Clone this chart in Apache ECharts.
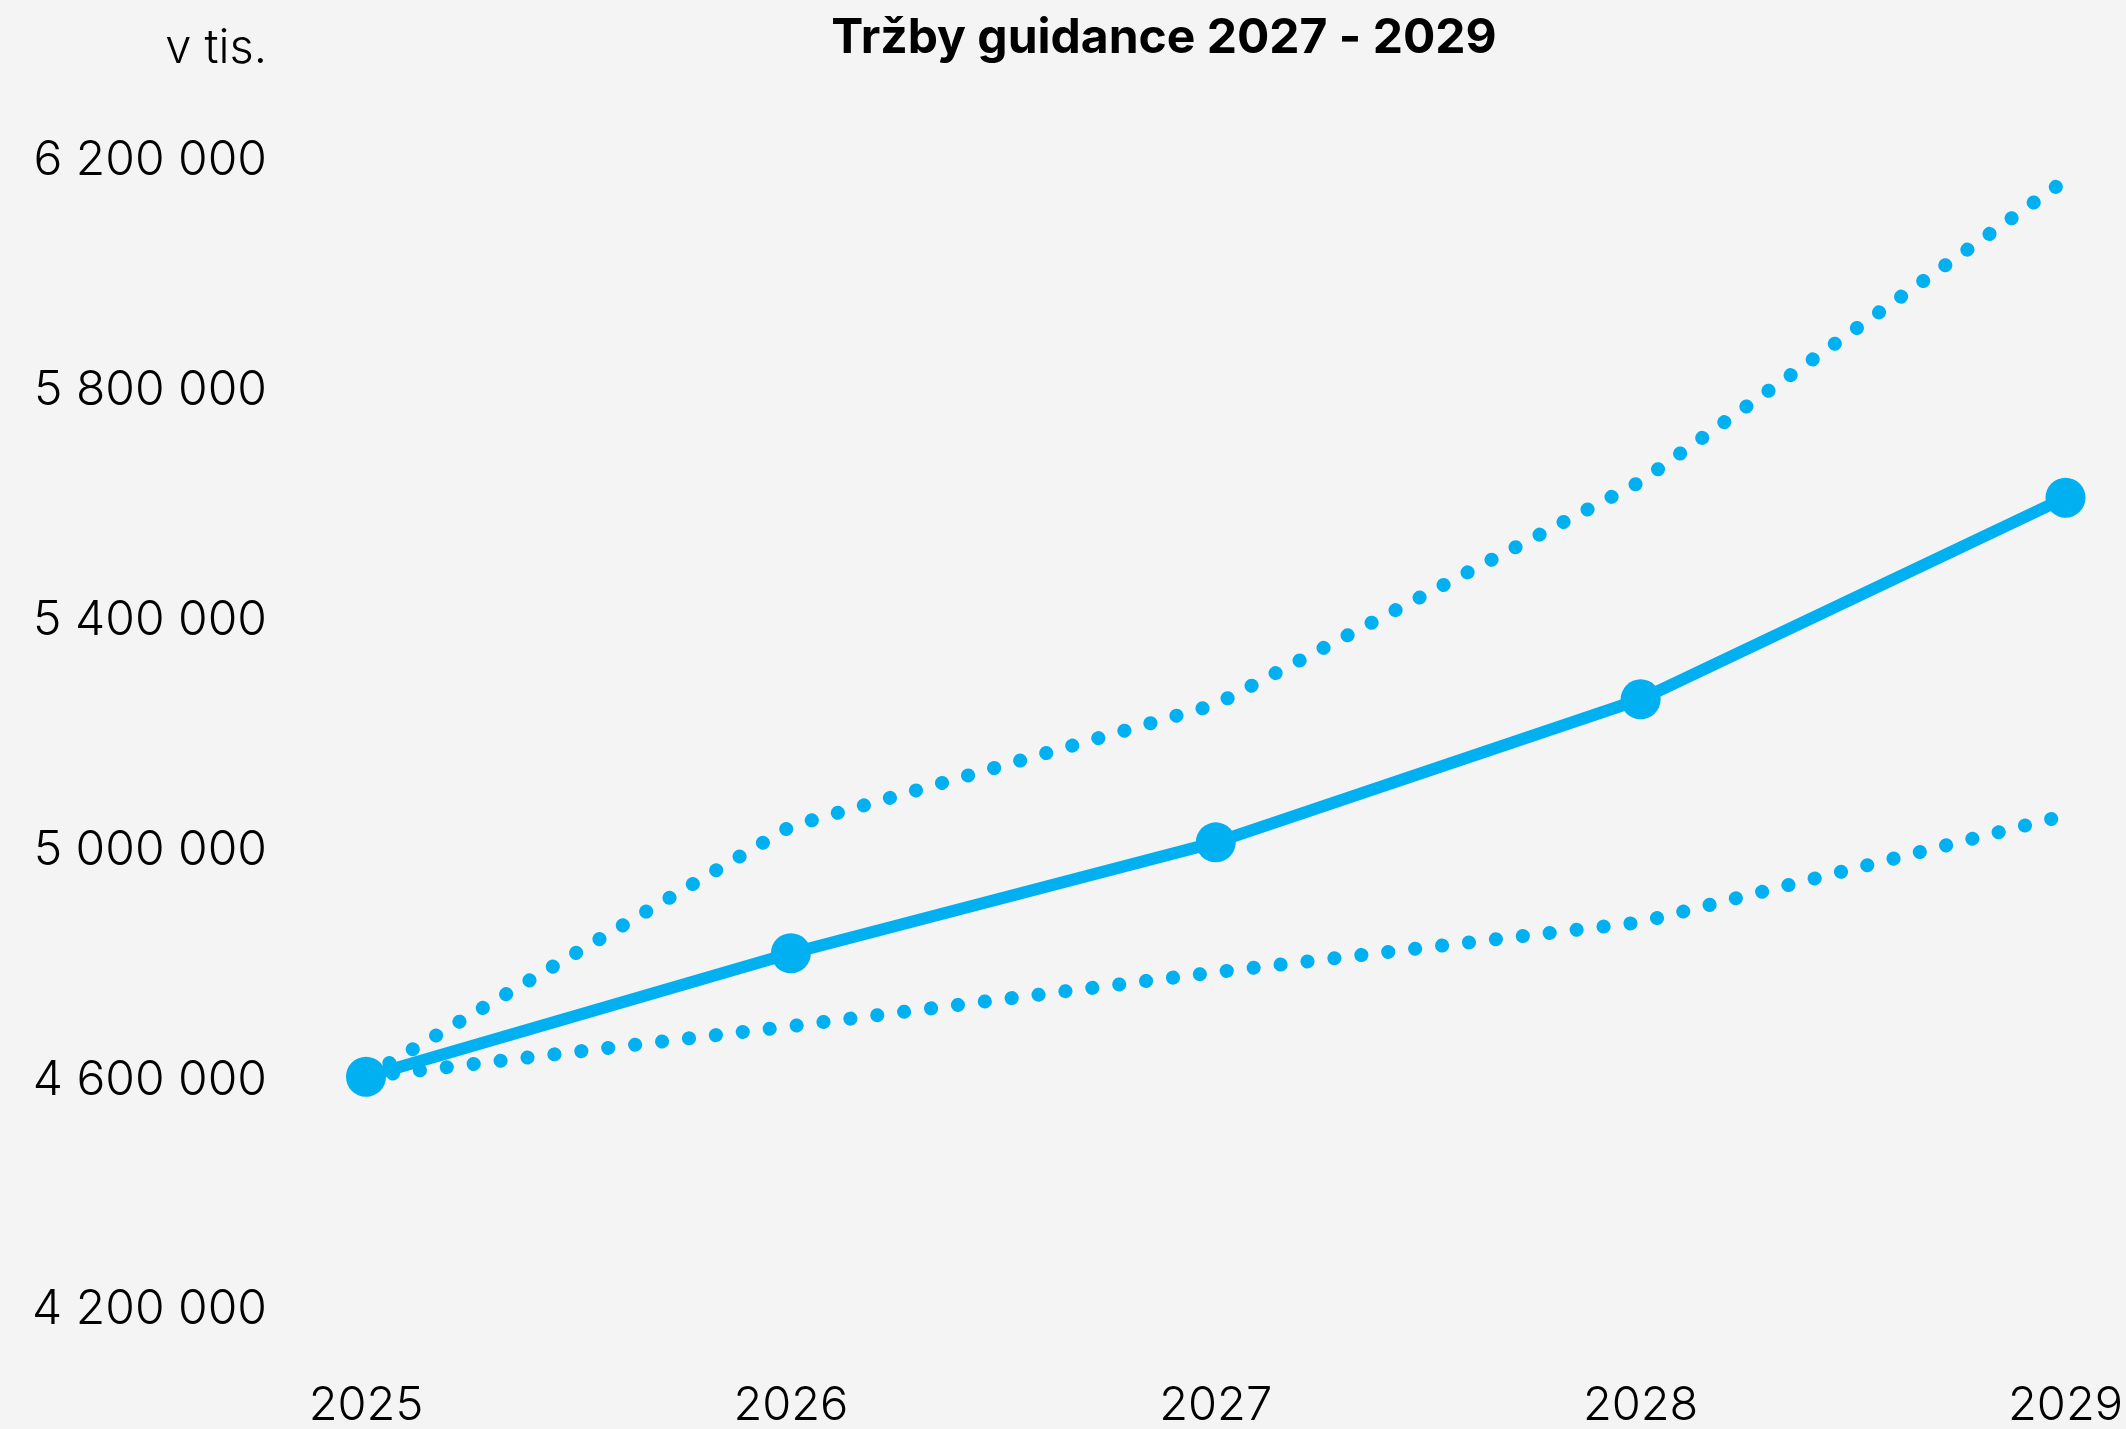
<!DOCTYPE html>
<html>
<head>
<meta charset="utf-8">
<title>Tržby guidance</title>
<script src="https://cdn.jsdelivr.net/npm/echarts@6/dist/echarts.min.js"></script>
<style>
  html, body { margin: 0; padding: 0; background: #f4f4f4; }
  #chart { width: 2126px; height: 1429px; }
</style>
</head>
<body>
<div id="chart"></div>
<script>
// data (v tis.)
var years = ['2025', '2026', '2027', '2028', '2029'];
var trzby = [4606000, 4821000, 5014000, 5263000, 5614000];
var horniOdhad = [4606000, 5042000, 5254000, 5642000, 6167000];
var dolniOdhad = [4606000, 4694000, 4788000, 4875000, 5061000];

var modra = '#00b0f0';
var font = 'Inter, "Open Sans", "Noto Sans", sans-serif';

function fmtNum(v) {
  return String(v).replace(/\B(?=(\d{3})+(?!\d))/g, ' ');
}

var chart = echarts.init(document.getElementById('chart'));
chart.setOption({
  backgroundColor: '#f4f4f4',
  animation: false,
  title: [{
    text: 'Tržby guidance 2027 - 2029',
    left: 1164,
    textAlign: 'center',
    top: 15,
    padding: 0,
    textStyle: { fontFamily: font, fontSize: 48, fontWeight: 'bold', color: '#000' }
  }, {
    text: 'v tis.',
    left: 267,
    textAlign: 'right',
    top: 25,
    padding: 0,
    textStyle: { fontFamily: font, fontSize: 47, fontWeight: 300, color: '#000' }
  }],
  grid: { left: 366, right: 60, top: 161, bottom: 114 },
  xAxis: {
    type: 'category',
    data: years,
    boundaryGap: false,
    axisLine: { show: false },
    axisTick: { show: false },
    splitLine: { show: false },
    axisLabel: { margin: 72, fontFamily: font, fontSize: 47, fontWeight: 300, color: '#000' }
  },
  yAxis: {
    type: 'value',
    min: 4200000,
    max: 6200000,
    interval: 400000,
    axisLine: { show: false },
    axisTick: { show: false },
    splitLine: { show: false },
    axisLabel: {
      margin: 99,
      padding: [6, 0, 0, 0],
      fontFamily: font, fontSize: 48, fontWeight: 300, color: '#000',
      formatter: fmtNum
    }
  },
  series: [{
    name: 'horní',
    type: 'line',
    data: horniOdhad,
    showSymbol: false,
    clip: false,
    z: 2,
    lineStyle: { color: modra, width: 14, type: [0.1, 27], cap: 'round' }
  }, {
    name: 'dolní',
    type: 'line',
    data: dolniOdhad,
    showSymbol: false,
    clip: false,
    z: 2,
    lineStyle: { color: modra, width: 14, type: [0.1, 27], cap: 'round' }
  }, {
    name: 'Tržby',
    type: 'line',
    data: trzby,
    symbol: 'circle',
    symbolSize: 40,
    clip: false,
    z: 3,
    itemStyle: { color: modra },
    lineStyle: { color: modra, width: 12 }
  }]
});
</script>
</body>
</html>
